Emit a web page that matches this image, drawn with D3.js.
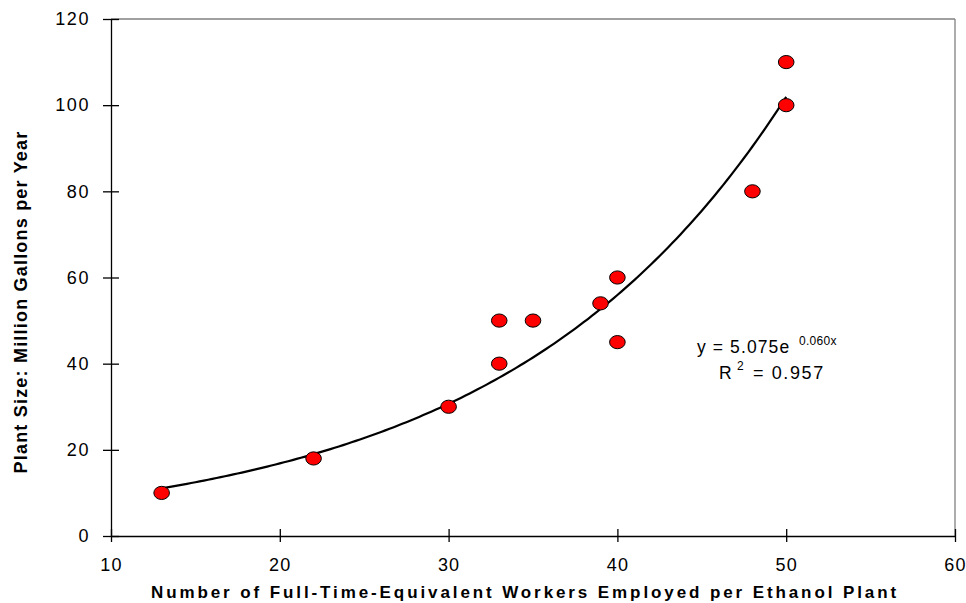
<!DOCTYPE html>
<html><head><meta charset="utf-8">
<script src="https://cdn.jsdelivr.net/npm/d3@7"></script>
<style>body{margin:0;background:#fff}svg{display:block}text{font-family:"Liberation Sans",Arial,sans-serif}</style>
</head><body><svg id="c" width="966" height="603"></svg>
<script>
const workers = [13, 22, 30, 33, 33, 35, 39, 40, 40, 48, 50, 50];
const plantSize = [10, 18, 30, 50, 40, 50, 54, 60, 45, 80, 110, 100];
const xTicks = [10, 20, 30, 40, 50, 60];
const yTicks = [0, 20, 40, 60, 80, 100, 120];
const fitA = 5.075, fitB = 0.060, fitR2 = 0.957;
const fitRange = [13, 50];

const svg = d3.select("#c");
const L = 111, R = 955, T = 19, B = 536;
const x = d3.scaleLinear().domain([10, 60]).range([L, R]);
const y = d3.scaleLinear().domain([0, 120]).range([B, T]);

// plot border (top/right gray)
svg.append("line").attr("x1", L).attr("x2", R).attr("y1", T).attr("y2", T).attr("stroke", "#808080").attr("stroke-width", 1.3);
svg.append("line").attr("x1", R).attr("x2", R).attr("y1", T).attr("y2", B).attr("stroke", "#808080").attr("stroke-width", 1.3);

const xAxis = svg.append("g").attr("transform", `translate(0,${B})`)
  .call(d3.axisBottom(x).tickValues(xTicks).tickSizeInner(6).tickSizeOuter(0));
xAxis.selectAll(".tick line").attr("y1", -7).attr("y2", 6);
const yAxis = svg.append("g").attr("transform", `translate(${L},0)`)
  .call(d3.axisLeft(y).tickValues(yTicks).tickSizeInner(8).tickSizeOuter(0));
yAxis.selectAll(".tick line").attr("x2", 8).attr("x1", -8);
[xAxis, yAxis].forEach(g => {
  g.select(".domain").attr("stroke", "#000").attr("stroke-width", 1.3);
  g.selectAll(".tick line").attr("stroke", "#000").attr("stroke-width", 1.3);
  g.selectAll(".tick text").attr("font-size", 18).attr("fill", "#000")
   .attr("font-family", '"Liberation Sans",Arial,sans-serif').style("letter-spacing", "1.6px");
});
xAxis.selectAll(".tick text").attr("y", 35).attr("dy", null).style("letter-spacing", "1.2px");
yAxis.selectAll(".tick text").attr("x", -21);

// trendline
const fitX = d3.range(fitRange[0], fitRange[1] + 0.001, 0.25);
const line = d3.line().x(d => x(d)).y(d => y(fitA * Math.exp(fitB * d)));
svg.append("path").datum(fitX).attr("d", line).attr("fill", "none")
  .attr("stroke", "#000").attr("stroke-width", 2.2);

// points
svg.append("g").selectAll("ellipse").data(workers).join("ellipse")
  .attr("cx", (d) => x(d)).attr("cy", (d, i) => y(plantSize[i]))
  .attr("rx", 7.8).attr("ry", 6.6)
  .attr("fill", "#ff0000").attr("stroke", "#000").attr("stroke-width", 1);

// equation
const eqStyle = s => s.attr("fill", "#000");
svg.append("text").attr("x", 697).attr("y", 353).attr("font-size", 17.5).style("letter-spacing", "1.1px")
  .call(eqStyle).text("y = 5.075e");
svg.append("text").attr("x", 799).attr("y", 345).attr("font-size", 12).style("letter-spacing", "0.3px")
  .call(eqStyle).text(`${fitB.toFixed(3)}x`);
svg.append("text").attr("x", 719).attr("y", 379).attr("font-size", 17.5).call(eqStyle).text("R");
svg.append("text").attr("x", 737).attr("y", 370).attr("font-size", 12).call(eqStyle).text("2");
svg.append("text").attr("x", 753).attr("y", 379).attr("font-size", 18).style("letter-spacing", "1.6px")
  .call(eqStyle).text(`= ${fitR2}`);

// axis titles
svg.append("text").attr("x", 525).attr("y", 598).attr("text-anchor", "middle")
  .attr("font-size", 17).attr("font-weight", "bold").style("letter-spacing", "2.9px")
  .text("Number of Full-Time-Equivalent Workers Employed per Ethanol Plant");
svg.append("text").attr("transform", "translate(27,302) rotate(-90)").attr("text-anchor", "middle")
  .attr("font-size", 18).attr("font-weight", "bold").style("letter-spacing", "1.2px")
  .text("Plant Size: Million Gallons per Year");
</script></body></html>
